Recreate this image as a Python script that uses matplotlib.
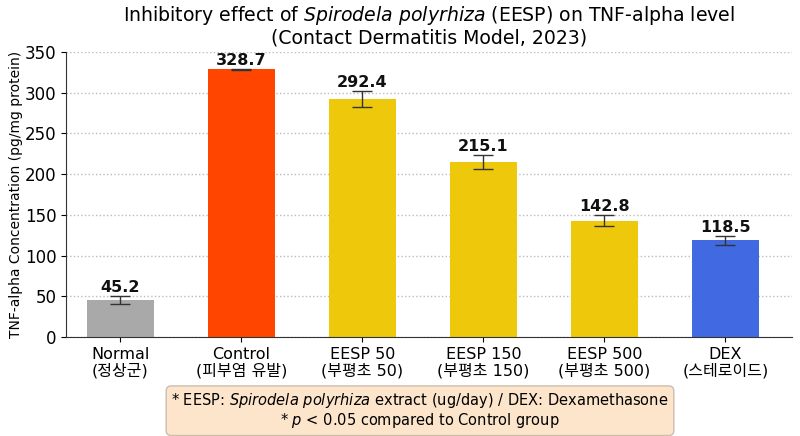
import matplotlib
matplotlib.use("Agg")
import matplotlib.pyplot as plt

plt.rcParams['font.family'] = ['DejaVu Sans', 'Noto Sans CJK KR']

# data
groups = ["Normal\n(정상군)", "Control\n(피부염 유발)", "EESP 50\n(부평초 50)",
          "EESP 150\n(부평초 150)", "EESP 500\n(부평초 500)", "DEX\n(스테로이드)"]
tnf = [45.2, 328.7, 292.4, 215.1, 142.8, 118.5]
sem = [5.0, 0.6, 9.5, 8.5, 7.0, 5.5]
colors = ["#A9A9A9", "#FF4500", "#EEC80A", "#EEC80A", "#EEC80A", "#4169E1"]

fig = plt.figure(figsize=(8, 4.36), dpi=100)
ax = fig.add_axes([0.0825, 0.227, 0.9075, 0.654])

x = range(len(groups))
ax.bar(x, tnf, width=0.56, color=colors, zorder=2)
ax.errorbar(x, tnf, yerr=sem, fmt='none', ecolor='#333333', elinewidth=1,
            capsize=7, capthick=1, zorder=3)

for i, (v, e) in enumerate(zip(tnf, sem)):
    ax.text(i, v + e + 1.5, f"{v:.1f}", ha='center', va='bottom',
            fontsize=11.5, fontweight='bold', color='#111111')

ax.set_xticks(list(x))
ax.set_xticklabels(groups, fontsize=11.5, linespacing=1.1)
ax.set_xlim(-0.45, 5.55)
ax.set_ylim(0, 350)
ax.set_yticks(range(0, 351, 50))
ax.tick_params(axis='y', labelsize=12)
ax.set_ylabel("TNF-alpha Concentration (pg/mg protein)", fontsize=10, labelpad=1)
ax.yaxis.grid(True, linestyle=':', color='#BBBBBB', linewidth=1, zorder=0)
ax.set_axisbelow(True)
ax.spines['top'].set_visible(False)
ax.spines['right'].set_visible(False)
ax.spines['left'].set_color('#333333')
ax.spines['bottom'].set_color('#333333')

ax.set_title("Inhibitory effect of $\\it{Spirodela\\ polyrhiza}$ (EESP) on TNF-alpha level\n"
             "(Contact Dermatitis Model, 2023)", fontsize=13.6, pad=6, linespacing=1.1)

fig.text(0.525, 0.058,
         "* EESP: $\\it{Spirodela\\ polyrhiza}$ extract (ug/day) / DEX: Dexamethasone\n"
         "* $\\it{p}$ < 0.05 compared to Control group",
         ha='center', va='center', fontsize=10.5, linespacing=1.1,
         bbox=dict(boxstyle='round,pad=0.35', facecolor='#FDE3C6',
                   edgecolor='#C8B8A8', alpha=0.9))

fig.savefig("out.png", dpi=100)
